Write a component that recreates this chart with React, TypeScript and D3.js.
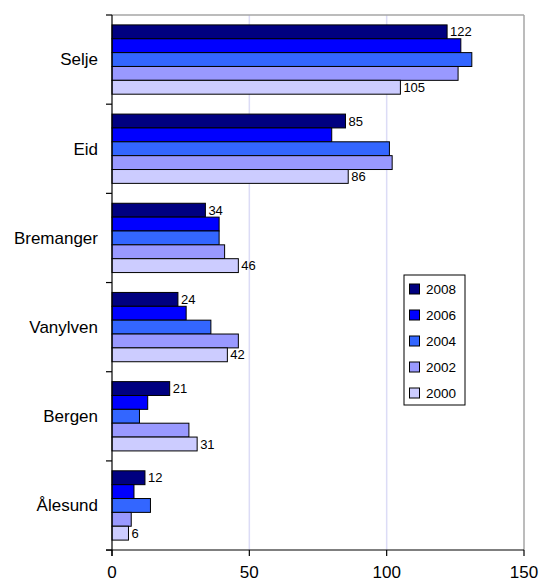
import * as d3 from "d3";

const categories = ["Selje", "Eid", "Bremanger", "Vanylven", "Bergen", "Ålesund"];
const years = ["2008", "2006", "2004", "2002", "2000"];
const colors = ["#000080", "#0000ff", "#3366ff", "#9999ff", "#ccccff"];

// values per year, same order as categories
const v2008 = [122, 85, 34, 24, 21, 12];
const v2006 = [127, 80, 39, 27, 13, 8];
const v2004 = [131, 101, 39, 36, 10, 14];
const v2002 = [126, 102, 41, 46, 28, 7];
const v2000 = [105, 86, 46, 42, 31, 6];
const series = [v2008, v2006, v2004, v2002, v2000];
const labelled = ["2008", "2000"];
const xTicks = [0, 50, 100, 150];

const W = 539;
const H = 583;
const margin = { top: 15, right: 15, bottom: 33, left: 112 };
const font = "Arial, 'Liberation Sans', sans-serif";

export default function App() {
  const x = d3.scaleLinear().domain([0, 150]).range([margin.left, W - margin.right]);
  const y = d3
    .scaleBand<string>()
    .domain(categories)
    .range([margin.top, H - margin.bottom])
    .paddingInner(0.223)
    .paddingOuter(0.111);
  const sub = d3.scaleBand<string>().domain(years).range([0, y.bandwidth()]);
  const x0 = x(0);
  const top = margin.top;
  const bottom = H - margin.bottom;
  const right = W - margin.right;

  // category tick positions (boundaries between groups)
  const boundaries = d3.range(categories.length + 1).map((i) => top + i * y.step());

  const legend = { x: 404, y: 275, w: 61, h: 130, step: 26 };

  return (
    <svg
      width={W}
      height={H}
      style={{ position: "absolute", left: 0, top: 0, background: "#fff" }}
      fontFamily={font}
    >
      <rect width={W} height={H} fill="#fff" />
      {/* gridlines */}
      {xTicks.slice(1, -1).map((t) => (
        <line key={t} x1={x(t)} x2={x(t)} y1={top} y2={bottom} stroke="#dcdcf6" strokeWidth={1.5} />
      ))}
      {/* plot frame top/right */}
      <line x1={x0} x2={right} y1={top} y2={top} stroke="#a6a6a6" strokeWidth={1.5} />
      <line x1={right} x2={right} y1={top} y2={bottom} stroke="#a6a6a6" strokeWidth={1.5} />

      {/* bars */}
      {categories.map((c, ci) => (
        <g key={c} transform={`translate(0,${y(c)})`}>
          {years.map((yr, si) => {
            const v = series[si][ci];
            const by = sub(yr)!;
            return (
              <g key={yr}>
                <rect
                  x={x0}
                  y={by}
                  width={x(v) - x0}
                  height={sub.bandwidth()}
                  fill={colors[si]}
                  stroke="#000"
                  strokeWidth={1}
                />
                {labelled.includes(yr) && (
                  <text
                    x={x(v) + 3}
                    y={by + sub.bandwidth() / 2}
                    dy="0.35em"
                    fontSize={13}
                    fill="#000"
                  >
                    {v}
                  </text>
                )}
              </g>
            );
          })}
        </g>
      ))}

      {/* left axis */}
      <line x1={x0} x2={x0} y1={top} y2={bottom + 6} stroke="#000" strokeWidth={1.2} />
      {boundaries.map((b, i) => (
        <line key={i} x1={x0 - 6} x2={x0} y1={b} y2={b} stroke="#000" strokeWidth={1.2} />
      ))}
      {categories.map((c) => (
        <text
          key={c}
          x={x0 - 14}
          y={y(c)! + y.bandwidth() / 2}
          dy="0.35em"
          textAnchor="end"
          fontSize={17}
          fill="#000"
        >
          {c}
        </text>
      ))}

      {/* bottom axis */}
      <line x1={x0 - 6} x2={right} y1={bottom} y2={bottom} stroke="#000" strokeWidth={1.2} />
      {xTicks.map((t) => (
        <g key={t}>
          <line x1={x(t)} x2={x(t)} y1={bottom} y2={bottom + 6} stroke="#000" strokeWidth={1.2} />
          <text x={x(t)} y={bottom + 28} textAnchor="middle" fontSize={17} fill="#000">
            {t}
          </text>
        </g>
      ))}

      {/* legend */}
      <rect x={legend.x} y={legend.y} width={legend.w} height={legend.h} fill="#fff" stroke="#000" strokeWidth={1} />
      {years.map((yr, i) => {
        const cy = legend.y + 14 + i * legend.step;
        return (
          <g key={yr}>
            <rect x={legend.x + 5.5} y={cy - 5} width={10} height={10} fill={colors[i]} stroke="#000" strokeWidth={1} />
            <text x={legend.x + 22} y={cy} dy="0.35em" fontSize={13.5} fill="#000">
              {yr}
            </text>
          </g>
        );
      })}
    </svg>
  );
}
